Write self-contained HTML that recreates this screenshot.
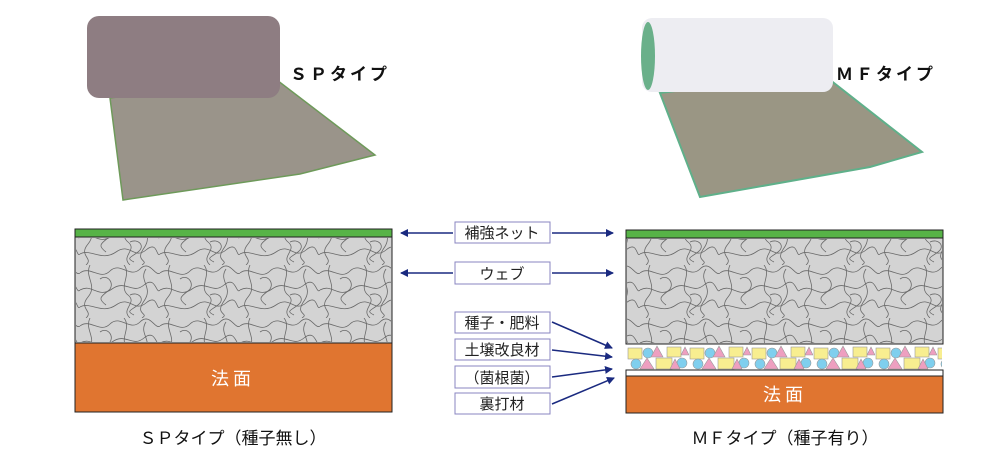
<!DOCTYPE html>
<html><head><meta charset="utf-8"><style>
body{margin:0;background:#fff;width:1000px;height:459px;overflow:hidden;font-family:"Liberation Sans","Noto Sans CJK JP",sans-serif}
</style></head><body>
<svg width="1000" height="459" viewBox="0 0 1000 459" xmlns="http://www.w3.org/2000/svg" font-family="Liberation Sans, Noto Sans CJK JP, sans-serif">
<defs>
<pattern id="fib" width="80" height="53" patternUnits="userSpaceOnUse">
<g fill="none" stroke="#444" stroke-width="0.8" opacity="0.75">
<path d="M0 8 C10 0,20 16,30 6 S50 14,60 4 S75 12,80 8"/>
<path d="M0 25 C12 18,18 34,32 24 S52 30,64 20 S76 30,80 25"/>
<path d="M0 42 C10 36,22 50,36 40 S54 48,66 38 S76 46,80 42"/>
<path d="M10 0 C4 12,18 20,8 32 S14 46,6 53"/>
<path d="M44 0 C52 10,38 22,48 30 S40 44,50 53"/>
<path d="M66 4 C58 16,74 22,64 36 S70 48,62 53"/>
<path d="M20 14 C28 8,36 20,28 26 S18 34,26 40"/>
<path d="M50 30 C58 26,66 34,58 40 S46 46,54 50"/>
</g>
</pattern>
<pattern id="par" width="62" height="26" patternUnits="userSpaceOnUse" x="627" y="345">
<g stroke="#999" stroke-width="0.6">
<rect x="1" y="3" width="14" height="11" fill="#f8ee90"/>
<circle cx="21" cy="8" r="5" fill="#7fcfee"/>
<polygon points="30,1 36,12 24,12" fill="#ee9fc0"/>
<circle cx="9" cy="19" r="5" fill="#7fcfee"/>
<polygon points="20,13 27,24 13,24" fill="#ee9fc0"/>
<rect x="29" y="13" width="16" height="11" fill="#f8ee90"/>
<rect x="40" y="2" width="14" height="10" fill="#f8ee90"/>
<circle cx="55" cy="18" r="5" fill="#7fcfee"/>
<polygon points="58,2 62,10 54,10" fill="#ee9fc0"/>
<polygon points="48,14 53,24 43,24" fill="#ee9fc0"/>
</g>
</pattern>
<marker id="ah" markerWidth="8" markerHeight="8" refX="7" refY="4" orient="auto" markerUnits="userSpaceOnUse"><path d="M0 0L8 4L0 8z" fill="#1a2a80"/></marker>
</defs>

<!-- SP roll photo -->
<polygon points="110,98 273,77 375,155 300,174 123,200" fill="#9a948a" stroke="#6e9a5a" stroke-width="1.5"/>
<rect x="87" y="16" width="193" height="82" rx="12" fill="#8e7d82"/>
<text x="290" y="80" font-size="17" font-weight="bold" fill="#111" letter-spacing="3">ＳＰタイプ</text>

<!-- MF roll photo -->
<polygon points="660,93 820,72 922,152 870,167 700,197" fill="#9a9684" stroke="#5fb08a" stroke-width="2"/>
<rect x="642" y="18" width="191" height="74" rx="10" fill="#ededf2"/>
<ellipse cx="648" cy="56" rx="7" ry="34" fill="#6ab08a"/>
<text x="836" y="80" font-size="17" font-weight="bold" fill="#111" letter-spacing="3">ＭＦタイプ</text>

<!-- left diagram -->
<rect x="75" y="229" width="317" height="8" fill="#57b347" stroke="#222"/>
<rect x="75" y="237" width="317" height="106" fill="#d3d3d3" stroke="#222"/>
<rect x="76" y="238" width="315" height="104" fill="url(#fib)"/>
<rect x="75" y="343" width="317" height="69" fill="#e07530" stroke="#222"/>
<text x="233" y="385" font-size="18" fill="#fff" text-anchor="middle" letter-spacing="4">法面</text>
<text x="233" y="444" font-size="17" fill="#111" text-anchor="middle">ＳＰタイプ（種子無し）</text>

<!-- right diagram -->
<rect x="626" y="230" width="317" height="8" fill="#57b347" stroke="#222"/>
<rect x="626" y="238" width="317" height="106" fill="#d3d3d3" stroke="#222"/>
<rect x="627" y="239" width="315" height="104" fill="url(#fib)"/>
<rect x="627" y="345" width="315" height="26" fill="url(#par)"/>
<rect x="626" y="370" width="317" height="6" fill="#fff" stroke="#222"/>
<rect x="626" y="376" width="317" height="37" fill="#e07530" stroke="#222"/>
<text x="785" y="401" font-size="18" fill="#fff" text-anchor="middle" letter-spacing="4">法面</text>
<text x="785" y="444" font-size="17" fill="#111" text-anchor="middle">ＭＦタイプ（種子有り）</text>

<!-- labels -->
<g fill="#fff" stroke="#8a85c0" stroke-width="1">
<rect x="455" y="222" width="95" height="21"/>
<rect x="455" y="262" width="95" height="22"/>
<rect x="455" y="312" width="95" height="21"/>
<rect x="455" y="339" width="95" height="21"/>
<rect x="455" y="366" width="95" height="22"/>
<rect x="455" y="393" width="95" height="21"/>
</g>
<g font-size="15" fill="#222" text-anchor="middle">
<text x="502" y="238">補強ネット</text>
<text x="502" y="279">ウェブ</text>
<text x="502" y="328">種子・肥料</text>
<text x="502" y="355">土壌改良材</text>
<text x="502" y="383">（菌根菌）</text>
<text x="502" y="409">裏打材</text>
</g>
<g stroke="#1a2a80" stroke-width="1.5" marker-end="url(#ah)">
<line x1="453" y1="233" x2="401" y2="233"/>
<line x1="552" y1="233" x2="613" y2="233"/>
<line x1="453" y1="273" x2="401" y2="273"/>
<line x1="552" y1="273" x2="613" y2="273"/>
<line x1="552" y1="322" x2="612" y2="348"/>
<line x1="552" y1="350" x2="612" y2="357"/>
<line x1="552" y1="377" x2="612" y2="369"/>
<line x1="552" y1="404" x2="614" y2="378"/>
</g>
</svg>
</body></html>
